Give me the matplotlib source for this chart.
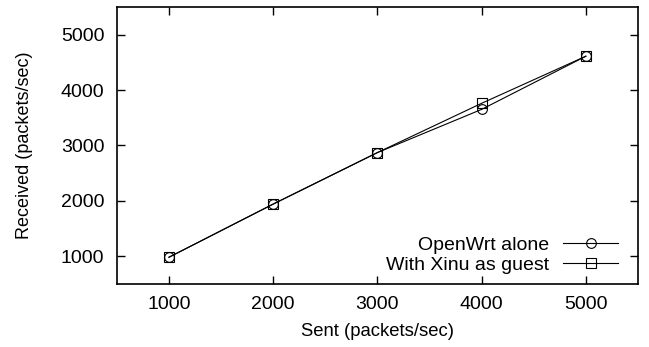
import matplotlib
matplotlib.use('Agg')
import matplotlib.pyplot as plt

plt.rcParams['font.family'] = ['Liberation Sans', 'DejaVu Sans']

# data
sent = [1000, 2000, 3000, 4000, 5000]
openwrt_alone = [980, 1940, 2870, 3650, 4610]
with_xinu = [980, 1940, 2870, 3760, 4610]
xticks = [1000, 2000, 3000, 4000, 5000]
yticks = [1000, 2000, 3000, 4000, 5000]

fig = plt.figure(figsize=(6.49, 3.47), dpi=100)
ax = fig.add_axes([0.180, 0.182, 0.803, 0.798])

ax.plot(sent, openwrt_alone, 'k-', marker='o', mfc='none', mec='k', ms=7, lw=0.8, mew=0.8,
        label='OpenWrt alone')
ax.plot(sent, with_xinu, 'k-', marker='s', mfc='none', mec='k', ms=7, lw=0.8, mew=0.8,
        label='With Xinu as guest')

ax.set_xlim(500, 5500)
ax.set_ylim(500, 5500)
ax.set_xticks(xticks)
ax.set_yticks(yticks)
ax.tick_params(direction='in', top=True, right=True, length=6, width=1, labelsize=14, pad=9)
for s in ax.spines.values():
    s.set_linewidth(1.2)

ax.set_xlabel('Sent (packets/sec)', fontsize=13.3, labelpad=7)
ax.set_ylabel('Received (packets/sec)', fontsize=13, labelpad=20)

ax.legend(loc='lower right', frameon=False, markerfirst=False, fontsize=14,
          handlelength=2.85, handletextpad=0.7, labelspacing=0.15,
          borderaxespad=0.1, bbox_to_anchor=(0.981, 0.0))

fig.savefig('out.png', dpi=100)
